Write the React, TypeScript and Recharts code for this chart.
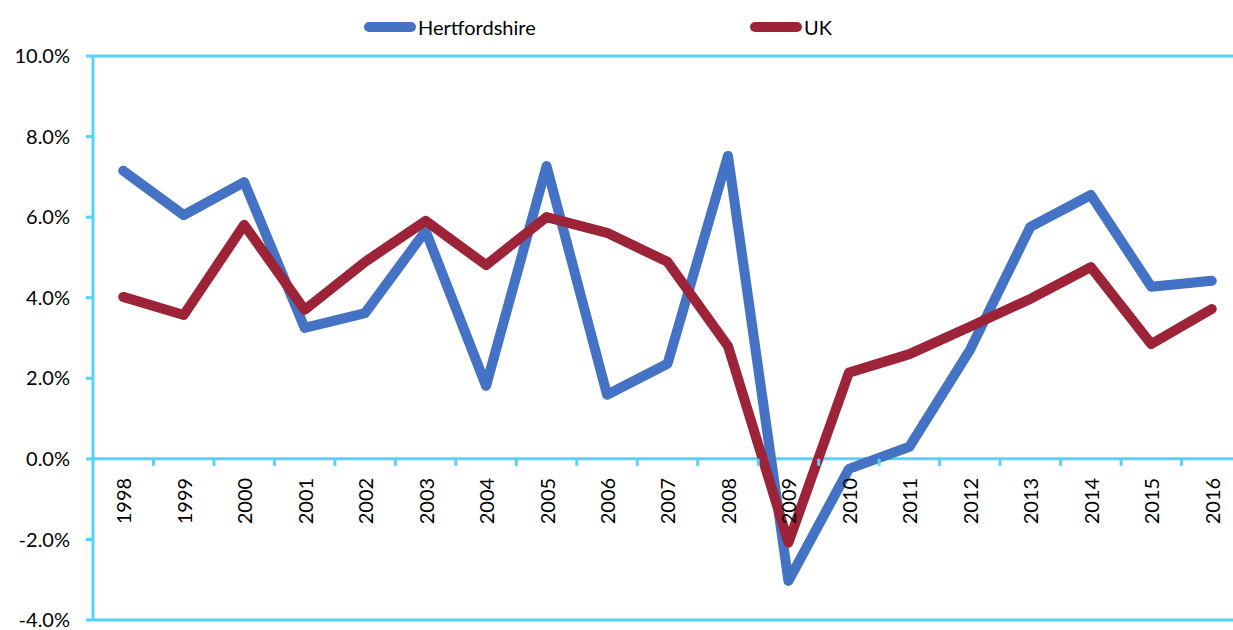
import React from 'react'
import { LineChart, Line, XAxis, YAxis, ReferenceLine } from 'recharts'

// Annual growth, Hertfordshire vs UK
const years = [
  '1998', '1999', '2000', '2001', '2002', '2003', '2004', '2005', '2006', '2007',
  '2008', '2009', '2010', '2011', '2012', '2013', '2014', '2015', '2016',
]
const hertfordshire = [
  7.15, 6.05, 6.87, 3.25, 3.62, 5.66, 1.81, 7.27, 1.59, 2.36,
  7.52, -3.03, -0.25, 0.3, 2.7, 5.76, 6.55, 4.27, 4.42,
]
const uk = [
  4.02, 3.57, 5.81, 3.7, 4.89, 5.91, 4.81, 6.0, 5.61, 4.89,
  2.8, -2.08, 2.14, 2.6, 3.28, 3.97, 4.76, 2.85, 3.72,
]
const yTicks = [-4, -2, 0, 2, 4, 6, 8, 10]

const series = [
  { key: 'herts', name: 'Hertfordshire', color: '#4472C4' },
  { key: 'uk', name: 'UK', color: '#9C2338' },
]

const data = years.map((y, i) => ({ year: y, herts: hertfordshire[i], uk: uk[i] }))

const AXIS = '#55D4FA'
const FONT = 'Lato, "Noto Sans", sans-serif'
const CHART_W = 1250
const CHART_H = 630
const PLOT_LEFT = 93
const PLOT_TOP = 56
const PLOT_H = 564
const PLOT_W = 1149
const Y_MIN = -4
const Y_MAX = 10
const STEP = PLOT_W / years.length
const Y_ZERO = PLOT_TOP + (PLOT_H * Y_MAX) / (Y_MAX - Y_MIN)

// category label sits on the zero line, with a tick mark on the band boundary
function YearTick(props: any) {
  const { x, payload } = props
  return (
    <g>
      <line x1={x + STEP / 2} x2={x + STEP / 2} y1={Y_ZERO} y2={Y_ZERO + 7} stroke={AXIS} strokeWidth={3} />
      <text
        x={x}
        y={Y_ZERO + 19}
        transform={`rotate(-90, ${x}, ${Y_ZERO + 19})`}
        textAnchor="end"
        dominantBaseline="central"
        fontSize={20}
        fontFamily={FONT}
        fill="#000"
      >
        {payload.value}
      </text>
    </g>
  )
}

const legendPos = [364, 750]

export default function App() {
  return (
    <div style={{ position: 'absolute', left: 0, top: 0, width: 1233, height: 630, overflow: 'hidden', background: '#fff' }}>
      <LineChart
        width={CHART_W}
        height={CHART_H}
        data={data}
        margin={{ top: PLOT_TOP, right: CHART_W - PLOT_LEFT - PLOT_W, left: 0, bottom: CHART_H - PLOT_TOP - PLOT_H - 1 }}
      >
        <XAxis
          dataKey="year"
          height={1}
          interval={0}
          padding={{ left: STEP / 2, right: STEP / 2 }}
          axisLine={{ stroke: AXIS, strokeWidth: 3 }}
          tickLine={false}
          tick={<YearTick />}
        />
        <YAxis
          width={PLOT_LEFT}
          domain={[Y_MIN, Y_MAX]}
          ticks={yTicks}
          interval={0}
          allowDataOverflow
          axisLine={{ stroke: AXIS, strokeWidth: 3 }}
          tickLine={{ stroke: AXIS, strokeWidth: 3 }}
          tickSize={7}
          tickMargin={16}
          tickFormatter={(v: number) => `${v.toFixed(1)}%`}
          tick={{ fontSize: 20, fontFamily: FONT, fill: '#000' }}
        />
        <ReferenceLine y={Y_MAX} stroke={AXIS} strokeWidth={3} />
        <ReferenceLine y={0} stroke={AXIS} strokeWidth={3} />
        {series.map((s) => (
          <Line
            key={s.key}
            dataKey={s.key}
            name={s.name}
            stroke={s.color}
            strokeWidth={10}
            strokeLinejoin="round"
            strokeLinecap="round"
            dot={false}
            activeDot={false}
            isAnimationActive={false}
          />
        ))}
      </LineChart>
      {series.map((s, i) => (
        <div
          key={s.key}
          style={{ position: 'absolute', left: legendPos[i], top: 12, display: 'flex', alignItems: 'center', height: 30 }}
        >
          <div style={{ width: 52, height: 10, borderRadius: 5, background: s.color }} />
          <span style={{ marginLeft: 2, fontFamily: FONT, fontSize: 20, color: '#000' }}>{s.name}</span>
        </div>
      ))}
    </div>
  )
}
